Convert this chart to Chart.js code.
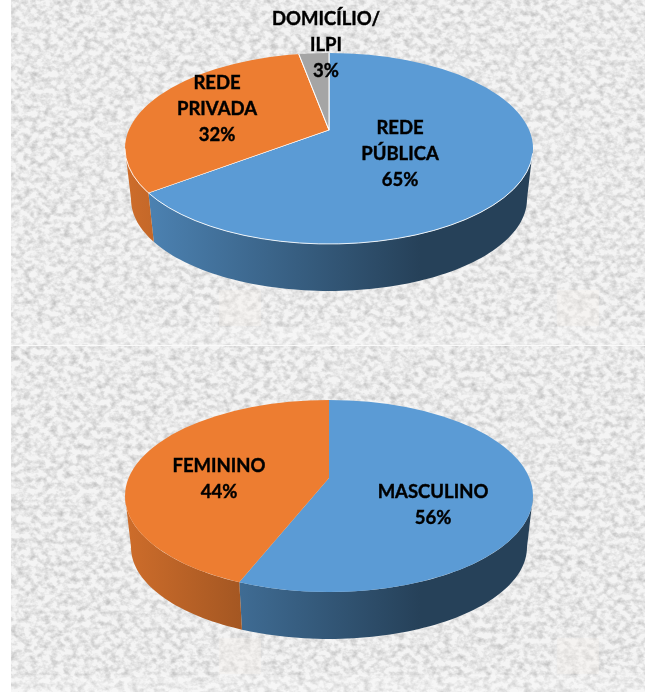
<!DOCTYPE html>
<html lang="pt">
<head>
  <meta charset="UTF-8">
  <title>Pizza 3D</title>
  <script src="https://cdn.jsdelivr.net/npm/chart.js"></script>
  <style>
    html, body { margin: 0; padding: 0; background: #fff; overflow: hidden; }
    #page { position: relative; width: 645px; height: 692px; }
    #paper { position: absolute; left: 11px; top: 0; }
    .wrap { position: absolute; left: 0; width: 645px; height: 346px; }
    #wrapTop { top: 0; }
    #wrapBottom { top: 346px; }
  </style>
</head>
<body>
<div id="page">
  <svg id="paper" width="634" height="692" xmlns="http://www.w3.org/2000/svg">
    <filter id="grain" x="0" y="0" width="100%" height="100%">
      <feTurbulence type="fractalNoise" baseFrequency="0.15 0.18" numOctaves="3" seed="7"/>
      <feColorMatrix type="matrix" values="0 0 0 0 0.5  0 0 0 0 0.5  0 0 0 0 0.5  1.7 0 0 0 -0.64"/>
    </filter>
    <rect width="634" height="692" fill="#f4f4f4"/>
    <rect width="634" height="692" filter="url(#grain)"/>
    <g fill="#f6f1ea" opacity="0.35">
      <rect x="208" y="290" width="42" height="36"/>
      <rect x="546" y="290" width="42" height="36"/>
      <rect x="208" y="638" width="42" height="36"/>
      <rect x="546" y="638" width="42" height="36"/>
    </g>
    <g fill="#fff" opacity="0.2">
      <rect y="327" width="634" height="18"/>
      <rect y="675" width="634" height="17"/>
    </g>
    <rect y="345" width="634" height="1" fill="#fafafa"/>
  </svg>
  <div class="wrap" id="wrapTop"><canvas id="pieLocal"></canvas></div>
  <div class="wrap" id="wrapBottom"><canvas id="pieSexo"></canvas></div>
</div>

<script>
const localLabels = [["REDE", "PÚBLICA"], ["REDE", "PRIVADA"], ["DOMICÍLIO/", "ILPI"]];
const localValues = [65, 32, 3];
const sexoLabels = [["MASCULINO"], ["FEMININO"]];
const sexoValues = [56, 44];
const sliceColors = ["#5B9BD5", "#ED7D31", "#A5A5A5"];

// where the label blocks sit, px inside each canvas (x centre, y of first line)
const localLabelPos = [[400, 128], [217, 83], [326, 19]];
const sexoLabelPos = [[433, 146], [219, 120]];

// brightness of the side wall from left to right
const wallShade = [[125, 0.87], [420, 0.42], [533, 0.42]];

function shade(hex, f) {
  const n = parseInt(hex.slice(1), 16);
  return `rgb(${((n >> 16) & 255) * f},${((n >> 8) & 255) * f},${(n & 255) * f})`;
}

const pie3d = {
  id: 'pie3d',
  beforeDatasetsDraw(chart, args, o) {
    const ctx = chart.ctx;
    const arcs = chart.getDatasetMeta(0).data;
    const midX = (chart.chartArea.left + chart.chartArea.right) / 2;
    const midY = (chart.chartArea.top + chart.chartArea.bottom) / 2;

    // walls: rim of every slice on the front half of the ellipse
    arcs.forEach((arc, i) => {
      const a = rimParam(o, arc.startAngle), b = rimParam(o, arc.endAngle);
      const pts = [];
      for (let d = 0; d <= 1.0001; d += 0.01) {
        const t = d * Math.PI;
        if ((a < b && t >= a && t <= b) || (a > b && (t >= a || t <= b))) pts.push(t);
      }
      if (pts.length < 2) return;
      if (a <= Math.PI && a >= 0) pts.unshift(a);
      if (b <= Math.PI && b >= 0) pts.push(b);
      const g = ctx.createLinearGradient(125, 0, 533, 0);
      wallShade.forEach(s => g.addColorStop((s[0] - 125) / 408, shade(sliceColors[i], s[1])));
      ctx.beginPath();
      pts.forEach((t, k) => {
        const x = o.cx + o.rx * Math.cos(t), y = o.cy + o.ry * Math.sin(t);
        k ? ctx.lineTo(x, y) : ctx.moveTo(x, y);
      });
      pts.slice().reverse().forEach(t => {
        ctx.lineTo(o.cx + o.rx2 * Math.cos(t), o.cy2 + o.ry2 * Math.sin(t));
      });
      ctx.closePath();
      ctx.fillStyle = g;
      ctx.fill();
    });

    // top face: the library's arcs squashed round the apex, cut by the ellipse
    ctx.save();
    ctx.beginPath();
    ctx.ellipse(o.cx, o.cy, o.rx, o.ry, 0, 0, Math.PI * 2);
    ctx.clip();
    ctx.translate(o.apexX, o.apexY);
    ctx.scale(o.grow, o.grow * o.squash);
    ctx.translate(-midX, -midY);
  },
  afterDatasetsDraw(chart, args, o) {
    const ctx = chart.ctx;
    ctx.restore();

    if (o.rim) {
      ctx.beginPath();
      ctx.ellipse(o.cx, o.cy, o.rx, o.ry, 0, 0.05, Math.PI);
      ctx.strokeStyle = 'rgba(255,255,255,0.85)';
      ctx.lineWidth = o.rim;
      ctx.stroke();
    }

    ctx.font = "bold 18.5px Lato";
    ctx.fillStyle = '#000';
    ctx.strokeStyle = '#000';
    ctx.lineWidth = 0.4;
    ctx.textAlign = 'center';
    ctx.textBaseline = 'middle';
    chart.data.labels.forEach((lines, i) => {
      const rows = lines.concat(chart.data.datasets[0].data[i] + '%');
      rows.forEach((t, k) => {
        ctx.fillText(t, o.labelPos[i][0], o.labelPos[i][1] + k * 26);
        ctx.strokeText(t, o.labelPos[i][0], o.labelPos[i][1] + k * 26);
      });
    });
  }
};

// angle of a slice edge -> parameter of the point where its ray meets the ellipse
function rimParam(o, ang) {
  const dx = Math.cos(ang) * o.grow, dy = Math.sin(ang) * o.grow * o.squash;
  const px = (o.apexX - o.cx) / o.rx, py = (o.apexY - o.cy) / o.ry;
  const qx = dx / o.rx, qy = dy / o.ry;
  const A = qx * qx + qy * qy, B = 2 * (px * qx + py * qy), C = px * px + py * py - 1;
  const r = (-B + Math.sqrt(B * B - 4 * A * C)) / (2 * A);
  let t = Math.atan2(py + qy * r, px + qx * r);
  if (t < 0) t += Math.PI * 2;
  return t;
}

function drawPie(id, labels, values, opts, seam) {
  new Chart(document.getElementById(id), {
    type: 'pie',
    data: {
      labels: labels,
      datasets: [{
        data: values,
        backgroundColor: sliceColors.slice(0, values.length),
        borderColor: '#fff',
        borderWidth: seam,
        clip: false
      }]
    },
    options: {
      responsive: true,
      maintainAspectRatio: false,
      animation: false,
      layout: { padding: 0 },
      plugins: { legend: { display: false }, tooltip: { enabled: false }, pie3d: opts }
    },
    plugins: [pie3d]
  });
}

drawPie('pieLocal', localLabels, localValues, {
  cx: 329, cy: 148.5, rx: 204, ry: 95.5,
  cx2: 329, cy2: 199, rx2: 198, ry2: 92,
  apexX: 329, apexY: 130, grow: 1.45, squash: 0.48,
  rim: 1, labelPos: localLabelPos
}, 0.7);

drawPie('pieSexo', sexoLabels, sexoValues, {
  cx: 329, cy: 150, rx: 204, ry: 96,
  cx2: 329, cy2: 201, rx2: 198, ry2: 92,
  apexX: 329, apexY: 132, grow: 1.45, squash: 0.46,
  rim: 0, labelPos: sexoLabelPos
}, 0);
</script>
</body>
</html>
